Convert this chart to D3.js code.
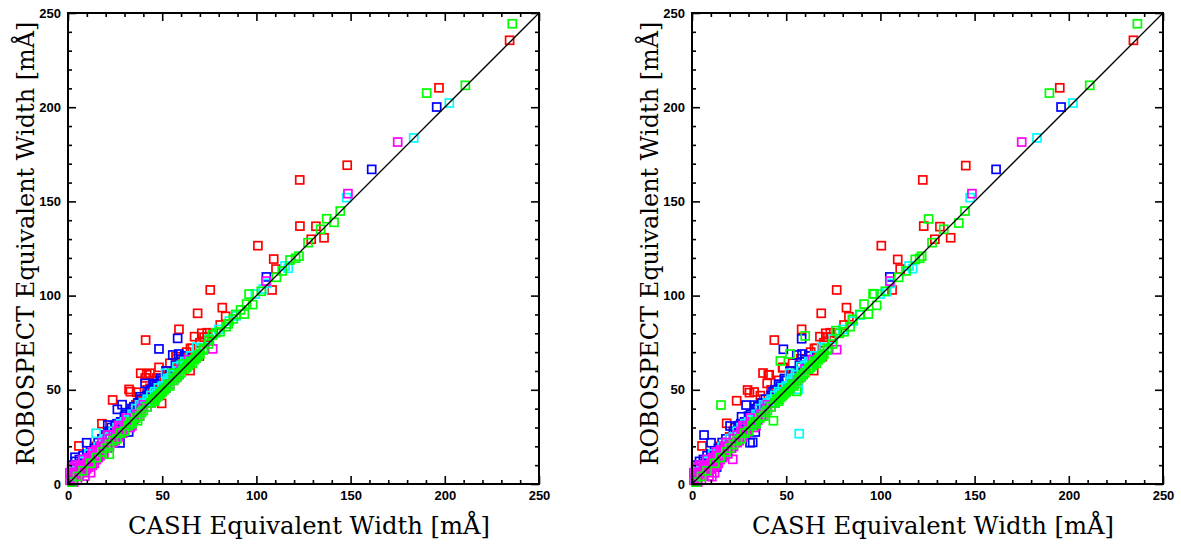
<!DOCTYPE html>
<html>
<head>
<meta charset="utf-8">
<script src="https://cdn.jsdelivr.net/npm/d3@7"></script>
<style>
  html, body { margin: 0; padding: 0; background: #fff; }
  svg { display: block; }
  .tick text { font-family: "Liberation Sans", Arial, sans-serif; font-weight: bold; font-size: 13px; fill: #000; }
  .axis-title { font-family: "DejaVu Serif", "Liberation Serif", serif; font-size: 25px; fill: #000; }
</style>
</head>
<body>
<svg id="chart" width="1181" height="548"></svg>
<script>
// Tick labels (mÅ)
const majorTicks = [0, 50, 100, 150, 200, 250];
const minorTicks = [10, 20, 30, 40, 60, 70, 80, 90, 110, 120, 130, 140, 160, 170, 180, 190, 210, 220, 230, 240];
const xTitle = "CASH Equivalent Width [mÅ]";
const yTitle = "ROBOSPECT Equivalent Width [mÅ]";

// Left panel: [CASH EW, ROBOSPECT EW]
const leftRed = [
  [5.8,20.2],[10,14],[15,20],[18,32],[20,25],[23.7,44.6],[25,30],[28,33],[30,34],[32.4,50.2],[33.1,49],
  [34,40],[36,42],[36.4,48.7],[38,45],[38.6,58.8],[40,44],[41,56.3],[41.8,58],[41.2,76.4],[42,50],[43.5,50.8],
  [43.5,58.8],[45,50],[46,55],[47.1,54.7],[47.1,56.3],[48.3,61.9],[49.7,42.8],[50,55],[52,57],[53,60],[54.1,64.1],
  [55,60],[57.3,67.6],[57.7,66.5],[58,62],[58.9,82.1],[59.4,64.1],[60,65],[62,68],[62.6,66.9],[63,70],[64.8,60.2],
  [65,72],[66,72],[67.2,78.2],[68.8,90.6],[69.7,67.9],[70,75],[71,80],[72.3,77.9],[73.9,80.3],[74,78],[75.5,103],[77,80],
  [80.8,84.4],[81.9,93.6],[83.7,89],[100.8,126.5],[108.3,103],[109.2,119.4],[110.4,114.1],
  [123,161.4],[123.1,136.9],[129.1,129.9],[131.6,136.8],[135.9,130.7],[148.2,169.2],[196.9,210.3],[234.4,235.5]
];
const leftBlue = [
  [2,10],[3.7,14.2],[4,12],[5,9],[6,13],[7,11],[8,15],[9.9,21.9],[10,16],[12,17],[14,19],[16,22],
  [18,24],[20,26],[21.1,31.3],[22,28],[23,30],[25,31],[26,32],[26.2,39.6],[27.6,21.8],[28,33],[28.7,42.1],[30,36],
  [31,37],[32.2,27.6],[33,38],[34,40],[35,41],[37,43],[38.2,46.3],[39,45],[40.9,53.4],[42,47],[43,49],[44,50],
  [45.8,53.4],[46,53],[47,52],[48.3,71.7],[49,56],[50,55],[52,60],[54,58],[55.6,68.5],[57,63],[58.8,69],
  [58.2,77.3],[60,66],[62,68],[105.3,109.9],[161.2,167],[195.7,200.1]
];
const leftCyan = [
  [2,4],[3,7],[4,9],[6,10],[8,12],[10,13],[11,16],[13,17],[14.9,26.9],[16,20],[18,21],[20,24],
  [22,25],[24,28],[26,30],[28,32],[30,33],[32,34],[34,37],[35,36],[36,40],[38,42],[39,41],[40,43],[42,45],
  [43,44],[44,47],[46,49],[47,48],[48,51],[50,52],[51.8,58.8],[52,54],[53,56],[54,56],[55,58],[57.7,62.3],
  [58,60],[60,63],[62,65],[63,64],[65,68],[68.3,72.6],[70,72],[75,77],[80,82],
  [85.6,86.5],[89.2,89.2],[99.4,100.8],[103.7,103.5],[105.5,106.5],[115.2,115.7],[116.9,114.5],
  [147.9,152],[183.5,183.7],[202.4,202.2]
];
const leftGreen = [
  [2,1],[5,4],[8,7],[12,11],[15,14],[18,17],[21.9,15.8],[20,19],[22,21],[24,23],[26,24],[28,27],
  [30,28],[32,31],[33,33],[34,32],[36.9,33.6],[36,35],[38,36],[39,38],[40,39],[42,41],[44,43],[45,45],
  [46,44],[47,46],[48,47],[49,48],[50,49],[51,50],[52,51],[53,53],[54,52],[55.9,58.8],[56,55],[57,56],
  [58,57],[59,58],[60,59],[61.2,63.7],[62,61],[63,62],[64,63],[65,65],[66,64],[67,66],[68,67],[69,68],
  [70,69],[71.8,71.1],[72,72],[74.5,74.3],[75,76.4],[76.6,79.1],[78.4,80.3],[80.7,80.8],[83.9,83.5],
  [85,85],[87.7,87.6],[89,90],[91.6,92.4],[93.6,90.2],[94.8,95.5],[96.1,100.8],[98,95.2],[102.6,102.3],
  [110.6,109.7],[113.7,113.1],[117.8,118.9],[120.8,119.8],[122.6,120.9],[127.4,128.1],[134.1,135.2],
  [137.3,140.8],[141.2,138.9],[144.5,144.9],[190.4,207.5],[210.9,211.6],[235.8,244.3]
];
const leftMagenta = [
  [1,2],[1,6],[2,5],[2,9],[3,1],[3,3],[2,8],[4,6],[4,10],[5,2],[5,4],[6,5],[6,8],[7,6],[7,10],
  [8,9],[8,13],[9,4.2],[9,7],[10,8],[10,11],[11,9],[11,14],[12,6],[12,12],[13,10],[13,17],[14,11],
  [14,15],[15,13],[15,18],[16,14],[16,17],[17,15],[17,20],[18,19],[18,22],[19,16],[19,18],[20,21],
  [21,19],[21,26],[22,20],[22,24],[23,22],[24,22],[24,26],[25,23],[26,28],[27,25],[27,31],[28,30],
  [29,27],[30,29],[31,35],[32,33],[33,30],[34,31],[35,34],[36,37],[37,36],[38,36],[39,40],[40,42],
  [42,41],[44,43],[46,45],[48,47],[50,49],[52,51],[54,53],[56,55],[58,57],[60,61],[64,66],[68,67],
  [76.8,71.7],[105.1,107.7],[148.6,154.1],[175,181.5]
];

// Right panel: [CASH EW, ROBOSPECT EW]
const rightRed = [
  [5.3,20.2],[10,14],[15,20],[18.4,32.2],[20,25],[23.7,44.2],[25,30],[28,33],[29.5,49.9],[30.5,48.5],
  [33,48.8],[34,40],[36.3,46.9],[37.7,58.9],[38,45],[39.9,53.4],[40.5,57.9],[41,58],[42,50],[43.7,76.4],
  [45,50],[46,55],[48.3,61.9],[48.1,61.7],[50,55],[52,57],[53,60],[53.4,64.1],[55,60],[57.7,66.5],[58,62],
  [58.2,82.1],[60,65],[62,68],[63,70],[64.6,60.2],[65,72],[66,72],[67.9,78.2],[68.6,90.6],[69.2,67.6],
  [70,75],[71,80],[71.1,77.9],[73.4,80.3],[74,78],[76.8,103],[77,80],[80.7,84.4],[82,93.6],[83.3,88.8],
  [100.5,126.5],[106.2,103],[109.2,119.2],[110.5,114.1],[122.5,161.4],[123,136.9],[128.9,129.9],
  [131.6,136.6],[137.3,130.7],[145.3,169],[195.2,210.3],[234.3,235.5]
];
const rightBlue = [
  [2,10],[4,12],[5,9],[6.4,26],[6,13],[7,11],[8,15],[10.1,21.9],[10,16],[12,17],[13.1,9],[14,19],
  [16,22],[18,24],[20.2,30.8],[22,28],[23,30],[25,31],[26,32],[26.3,35.7],[28,33],[28.7,41.9],[30,36],
  [30.8,21.9],[31,37],[32.2,22.1],[33.3,41.9],[33.6,27.6],[34,40],[35,41],[37,43],[39,45],[42,47],
  [43,49],[44,50],[46,53],[47,52],[48.5,71.5],[49,56],[50,55],[52,60],[54,58],[55.6,68.5],[57,63],
  [58.4,69],[58.2,77.1],[60,66],[62,68],[105,109.9],[161.4,167],[195.9,200.1]
];
const rightCyan = [
  [2,4],[3,7],[4,9],[6,10],[8,12],[10,13],[11,16],[13,17],[16,20],[18,21],[20,24],[22,25],[24,28],
  [26,30],[28,32],[30,33],[32,34],[34,37],[35,36],[36,40],[38,42],[39,41],[40,43],[42,45],[43,44],
  [44,47],[46,49],[47,48],[48,51],[50,52],[51.8,58.8],[52,54],[53,56],[54,56],[55,58],[56.4,50.3],
  [56.9,26.7],[57.7,62.3],[58,60],[60,63],[62,65],[63,64],[65,68],[68.8,72.6],[70,72],[75,77],[80,82],
  [85.6,86.5],[89.2,89.7],[99.8,100.8],[103.3,102.1],[105.5,106.5],[115.2,115.7],[117.1,114.3],
  [147.6,152],[183.1,183.7],[202.2,202.2]
];
const rightGreen = [
  [2,1],[5,4],[8,7],[12,11],[15,14],[15.4,41.9],[18,17],[20,19],[22,21],[24,23],[26,24],[28,27],
  [30,28],[32,31],[33,33],[34,32],[36,35],[38,36],[39,38],[40,39],[42,41],[43.2,33.6],[44,43],[45,45],
  [46,44],[46.9,65.3],[47,46],[48,47],[49,48],[50,49],[51,50],[52,51],[52,69],[53,53],[54,52],[55.6,49.2],
  [56,55],[57,56],[58,57],[59,58],[60,59],[60.1,78.6],[62,61],[63,62],[64,63],[65,65],[66,64],[67,66],
  [68,67],[69,68],[70,69],[71.8,71.1],[72,72],[74.5,74.3],[76.4,81.4],[78.2,80],[80.7,80.8],[83.9,83.5],
  [85.1,87.4],[89,90],[91.3,95.5],[93.6,90.2],[96.1,101],[96.6,100.8],[98,94.8],[102.6,102.3],[109.7,109.7],
  [113.6,113.1],[118.5,119.2],[120.8,119.8],[121.9,120.9],[125.6,140.7],[127.4,128.1],[133.6,135.2],
  [141.6,138.5],[144.9,144.9],[189.7,207.5],[211.1,211.6],[236.4,244.3]
];
const rightMagenta = [
  [1,2],[1,6],[2,5],[2,9],[3,1],[3,3],[2,8],[4,6],[4,10],[5,2],[5,4],[6,5],[6,8],[7,6],[7,10],
  [8,9],[8,13],[9,4.2],[9,7],[10,8],[10.5,3.9],[10,11],[11,9],[11,14],[12,6],[12,12],[13,10],[13,17],
  [14,11],[14,15],[15,13],[15,18],[16,14],[16,17],[17,15],[17,20],[18,19],[18,22],[19,16],[19,18],
  [20,21],[21,19],[21.6,13.1],[22,20],[22,24],[23,22],[24,22],[24,26],[25,23],[26,28],[27,25],
  [27,31],[28,30],[29,27],[30,29],[31,35],[32,33],[33,30],[34,31],[35,34],[36,37],[37,36],[38,36],
  [39,40],[40,42],[42,41],[44,43],[46,45],[48,47],[50,49],[52,51],[54,53],[56,55],[58,57],[60,61],
  [64,66],[68,67],[76.8,71.3],[105,107.7],[148.6,154.1],[175,181.5]
];

const seriesColors = { red: "#ff0000", blue: "#0000ff", cyan: "#00ffff", green: "#00ff00", magenta: "#ff00ff" };

// draw order: green last so the diagonal band reads green as in the original
const panels = [
  { left: 68,  series: [["red", leftRed], ["blue", leftBlue], ["cyan", leftCyan], ["magenta", leftMagenta], ["green", leftGreen]] },
  { left: 692, series: [["red", rightRed], ["blue", rightBlue], ["cyan", rightCyan], ["magenta", rightMagenta], ["green", rightGreen]] }
];

const plotTop = 13, size = 471, boxSize = 8;
const svg = d3.select("#chart");

panels.forEach(p => {
  const x = d3.scaleLinear().domain([0, 250]).range([p.left, p.left + size]);
  const y = d3.scaleLinear().domain([0, 250]).range([plotTop + size, plotTop]);
  const g = svg.append("g");

  // Points
  p.series.forEach(([name, pts]) => {
    g.append("g")
      .selectAll("rect")
      .data(pts)
      .join("rect")
      .attr("x", d => x(d[0]) - boxSize / 2)
      .attr("y", d => y(d[1]) - boxSize / 2)
      .attr("width", boxSize)
      .attr("height", boxSize)
      .attr("fill", "none")
      .attr("stroke", seriesColors[name])
      .attr("stroke-width", 1.7);
  });

  // 1:1 line
  g.append("line")
    .attr("x1", x(0)).attr("y1", y(0))
    .attr("x2", x(250)).attr("y2", y(250))
    .attr("stroke", "#000")
    .attr("stroke-width", 1.3);

  // Axes: ticks point inward on all four sides
  const addAxis = (axis, transform, labels) => {
    const major = g.append("g").attr("transform", transform)
      .call(axis.tickValues(majorTicks).tickSize(-8).tickSizeOuter(0).tickPadding(7)
        .tickFormat(labels ? d3.format("d") : ""));
    const minor = g.append("g").attr("transform", transform)
      .call(axis.tickValues(minorTicks).tickSize(-4).tickSizeOuter(0).tickFormat(""));
    [major, minor].forEach(a => {
      a.select(".domain").remove();
      a.selectAll(".tick line").attr("stroke", "#000").attr("stroke-width", 1.6);
    });
  };
  addAxis(d3.axisBottom(x), `translate(0,${plotTop + size})`, true);
  addAxis(d3.axisTop(x), `translate(0,${plotTop})`, false);
  addAxis(d3.axisLeft(y), `translate(${p.left},0)`, true);
  addAxis(d3.axisRight(y), `translate(${p.left + size},0)`, false);
  g.selectAll(".tick text").attr("font-family", null).attr("font-size", null);

  // Frame
  g.append("rect")
    .attr("x", p.left).attr("y", plotTop)
    .attr("width", size).attr("height", size)
    .attr("fill", "none")
    .attr("stroke", "#000")
    .attr("stroke-width", 2);

  // Titles
  g.append("text")
    .attr("class", "axis-title")
    .attr("x", p.left + 241).attr("y", 534)
    .attr("text-anchor", "middle")
    .attr("textLength", 362)
    .attr("lengthAdjust", "spacingAndGlyphs")
    .text(xTitle);

  g.append("text")
    .attr("class", "axis-title")
    .attr("transform", `translate(${p.left - 34.5},243.6) rotate(-90)`)
    .attr("text-anchor", "middle")
    .attr("textLength", 444)
    .attr("lengthAdjust", "spacingAndGlyphs")
    .text(yTitle);
});
</script>
</body>
</html>
